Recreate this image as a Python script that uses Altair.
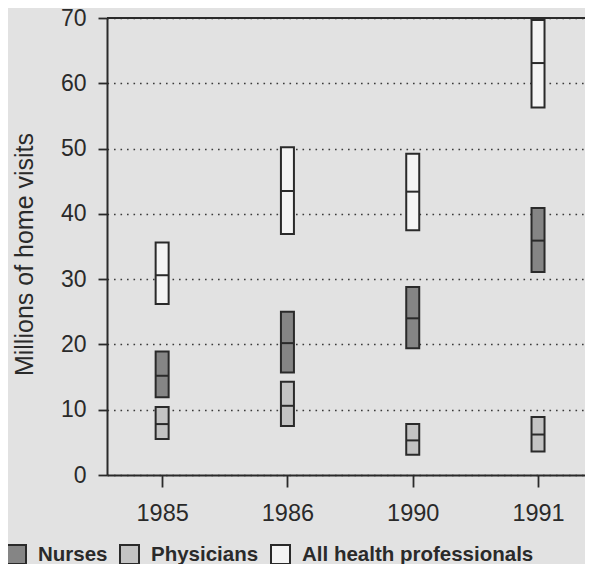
import altair as alt
import pandas as pd

years = ["1985", "1986", "1990", "1991"]
groups = ["Nurses", "Physicians", "All health professionals"]
fills = ["#858585", "#c3c3c3", "#f4f4f4"]

nurses_low = [11.9, 15.7, 19.4, 31.1]
nurses_mid = [15.2, 20.2, 24.0, 35.9]
nurses_high = [18.9, 25.0, 28.8, 40.9]

phys_low = [5.5, 7.5, 3.1, 3.6]
phys_mid = [7.8, 10.6, 5.3, 6.2]
phys_high = [10.4, 14.3, 7.8, 8.9]

all_low = [26.2, 36.9, 37.5, 56.3]
all_mid = [30.6, 43.5, 43.4, 63.1]
all_high = [35.6, 50.2, 49.2, 69.7]

y_ticks = [0, 10, 20, 30, 40, 50, 60, 70]
y_max = 70

rows = []
for g, lo, mi, hi in [
    ("Nurses", nurses_low, nurses_mid, nurses_high),
    ("Physicians", phys_low, phys_mid, phys_high),
    ("All health professionals", all_low, all_mid, all_high),
]:
    for i, yr in enumerate(years):
        rows.append({"year": yr, "group": g, "low": lo[i], "mid": mi[i], "high": hi[i]})
df = pd.DataFrame(rows)

FONT = "Liberation Sans"
INK = "#2a2a2a"

xenc = alt.X(
    "year:N",
    sort=years,
    scale=alt.Scale(type="point", padding=0.4075, align=0.54),
    axis=alt.Axis(
        title=None,
        labelFont=FONT,
        labelFontSize=23.5,
        labelColor=INK,
        labelAngle=0,
        labelPadding=14,
        tickSize=12,
        tickWidth=1.8,
        tickColor=INK,
        domainColor=INK,
        domainWidth=2,
        grid=False,
    ),
)

yscale = alt.Scale(domain=[0, y_max], nice=False, zero=True)
yaxis = alt.Axis(
    values=y_ticks,
    title="Millions of home visits",
    titleFont=FONT,
    titleFontSize=25,
    titleFontWeight="normal",
    titleColor=INK,
    titleAngle=270,
    titleAlign="center",
    titleBaseline="alphabetic",
    titleX=-75,
    titleY=236,
    labelFont=FONT,
    labelFontSize=23,
    labelColor=INK,
    labelPadding=12,
    tickSize=9,
    tickWidth=1.8,
    tickColor=INK,
    domainColor=INK,
    domainWidth=2,
    grid=True,
    gridColor="#3a3a3a",
    gridWidth=1.6,
    gridDash=[1.6, 4.9],
)

boxes = alt.Chart(df).mark_bar(size=13, stroke=INK, strokeWidth=2, opacity=1).encode(
    x=xenc,
    y=alt.Y("low:Q", scale=yscale, axis=yaxis),
    y2="high:Q",
    color=alt.Color(
        "group:N",
        sort=groups,
        scale=alt.Scale(domain=groups, range=fills),
        legend=alt.Legend(
            title=None,
            orient="none",
            legendX=-101,
            legendY=526,
            direction="horizontal",
            symbolType="square",
            symbolSize=361,
            symbolStrokeColor=INK,
            symbolStrokeWidth=2,
            symbolOpacity=1,
            labelFont=FONT,
            labelFontSize=20.5,
            labelFontWeight="bold",
            labelColor=INK,
            labelOffset=11,
            labelLimit=600,
            columnPadding=8,
        ),
    ),
)

mids = alt.Chart(df).mark_tick(size=13, thickness=2, color=INK, opacity=1).encode(
    x=alt.X("year:N", sort=years),
    y=alt.Y("mid:Q", scale=yscale),
)

top = alt.Chart(pd.DataFrame({"v": [y_max]})).mark_rule(color=INK, strokeWidth=2).encode(
    y=alt.Y("v:Q", scale=yscale)
)

chart = (
    alt.layer(boxes, mids, top)
    .properties(
        width=478,
        height=457,
        autosize=alt.AutoSizeParams(type="none"),
        padding={"left": 99, "top": 10, "right": 0, "bottom": 89},
        background="#e2e2e2",
    )
    .configure_view(stroke=None)
)

chart.save("out.html", embed_options={"renderer": "svg", "actions": False})
